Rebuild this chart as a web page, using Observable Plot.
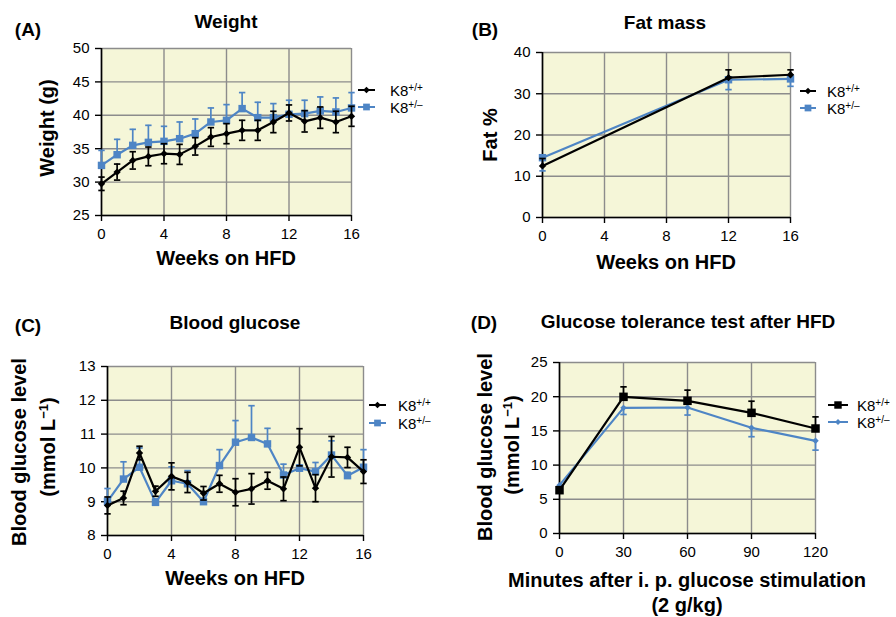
<!DOCTYPE html>
<html><head><meta charset="utf-8">
<script src="https://cdn.jsdelivr.net/npm/d3@7"></script>
<script src="https://cdn.jsdelivr.net/npm/@observablehq/plot@0.6"></script>
<style>
body{margin:0;background:#fff;font-family:"Liberation Sans",Arial,sans-serif;}
#root{position:relative;width:896px;height:617px;overflow:hidden;background:#fff;}
.abs{position:absolute;white-space:nowrap;color:#000;line-height:1;}
.c{transform:translate(-50%,-50%);}
.r{transform:translate(-50%,-50%) rotate(-90deg);}
.ttl{font-size:19px;font-weight:bold;}
.lab{font-size:20px;font-weight:bold;}
.leg{font-size:15px;transform:translateY(-50%);line-height:15px;}
.leg sup{font-size:10px;vertical-align:5px;line-height:0;}
.lab sup{font-size:13px;vertical-align:7px;line-height:0;}
</style></head><body><div id="root"></div>
<script>
// ---------- data ----------
const weeksAll = [0,1,2,3,4,5,6,7,8,9,10,11,12,13,14,15,16];
const weightWT    = [29.75,31.5,33.25,33.85,34.25,34.15,35.35,36.75,37.25,37.75,37.75,39.0,40.35,39.1,39.65,39.0,39.85];
const weightWTErr = [1.0,1.2,1.3,1.4,1.5,1.5,1.3,1.4,1.5,1.5,1.5,1.6,1.2,1.6,1.6,1.6,1.5];
const weightHet    = [32.5,34.1,35.5,35.95,36.1,36.5,37.25,39.0,39.25,41.0,39.65,39.65,40.15,40.25,40.65,40.5,41.1];
const weightHetErr = [2.25,2.3,2.4,2.55,2.25,2.5,2.2,2.1,2.35,2.4,2.3,2.1,2.1,2.0,2.1,2.1,2.3];

const weeksFat = [0,12,16];
const fatWT    = [12.5,33.9,34.6];
const fatWTErr = [1.8,1.9,1.2];
const fatHet    = [14.5,33.4,33.6];
const fatHetErr = [3.2,2.4,1.8];

const glucWT    = [8.89,9.11,10.44,9.31,9.75,9.57,9.25,9.53,9.28,9.38,9.62,9.38,10.61,9.40,10.33,10.31,9.89];
const glucWTErr = [0.25,0.2,0.2,0.15,0.4,0.3,0.2,0.25,0.4,0.45,0.25,0.35,0.55,0.4,0.6,0.3,0.35];
const glucHet    = [9.01,9.67,10.02,8.98,9.62,9.53,9.0,10.07,10.76,10.90,10.71,9.79,9.99,9.89,10.38,9.77,10.02];
const glucHetErr = [0.38,0.51,0.57,0.1,0.41,0.39,0.1,0.47,0.64,0.94,0.46,0.32,0.1,0.27,0.42,0.1,0.52];

const minutes = [0,30,60,90,120];
const gttWT    = [6.33,19.98,19.40,17.64,15.35];
const gttWTErr = [0.5,1.46,1.56,1.7,1.7];
const gttHet    = [7.07,18.37,18.42,15.45,13.55];
const gttHetErr = [0.3,0.97,1.1,1.3,1.36];

const ticksWeeks = [0,4,8,12,16];
const ticksWeight = [25,30,35,40,45,50];
const ticksFat = [0,10,20,30,40];
const ticksGluc = [8,9,10,11,12,13];
const ticksMin = [0,30,60,90,120];
const ticksGtt = [0,5,10,15,20,25];

// ---------- style ----------
const BLACK = "#000", BLUE = "#4e85c5", BG = "#f5f6d8", GRID = "#8c8c8c";
const cap = {draw(ctx, size){ const r = Math.sqrt(size/Math.PI); ctx.moveTo(-r,0); ctx.lineTo(r,0); }};

function rowsOf(xs, ys, es, dir){ // dir: "both" | "up" | "down"
  return xs.map((x,i)=>({x, y: ys[i],
    lo: dir==="up" ? ys[i] : ys[i]-es[i],
    hi: dir==="down" ? ys[i] : ys[i]+es[i], dir}));
}

function seriesMarks(rows, color, symbol, r){
  const capsHi = rows.filter(d=>d.dir!=="down");
  const capsLo = rows.filter(d=>d.dir!=="up");
  return [
    Plot.ruleX(rows, {x:"x", y1:"lo", y2:"hi", stroke: color, strokeWidth: 1.7}),
    Plot.dot(capsHi, {x:"x", y:"hi", symbol: cap, r: 3.2, stroke: color, strokeWidth: 1.7}),
    Plot.dot(capsLo, {x:"x", y:"lo", symbol: cap, r: 3.2, stroke: color, strokeWidth: 1.7}),
    Plot.line(rows, {x:"x", y:"y", stroke: color, strokeWidth: 2.2}),
    Plot.dot(rows, {x:"x", y:"y", symbol, r, fill: color, stroke: null})
  ];
}

function panel(o){
  const chart = Plot.plot({
    width: o.w, height: o.h,
    marginLeft: o.ml, marginRight: o.mr, marginTop: o.mt, marginBottom: o.mb,
    x: {domain: o.xDomain, label: null},
    y: {domain: o.yDomain, label: null},
    style: {background: "transparent", fontFamily: "'Liberation Sans', Arial, sans-serif", fontSize: "15px", color: "#000", overflow: "visible"},
    marks: [
      Plot.frame({fill: BG, stroke: null}),
      Plot.gridX(o.xTicks, {stroke: GRID, strokeOpacity: 1, strokeWidth: 1.4}),
      Plot.gridY(o.yTicks, {stroke: GRID, strokeOpacity: 1, strokeWidth: 1.4}),
      Plot.axisX(o.xTicks, {tickSize: 6, tickPadding: 7, label: null, stroke: BLACK, strokeWidth: 1.4, fontSize: 15}),
      Plot.axisY(o.yTicks, {tickSize: 6, tickPadding: 6, label: null, stroke: BLACK, strokeWidth: 1.4, fontSize: 15}),
      Plot.ruleX([o.xDomain[0]], {stroke: BLACK, strokeWidth: 1.6}),
      Plot.ruleY([o.yDomain[0]], {stroke: BLACK, strokeWidth: 1.6}),
      ...o.series.flatMap(s => seriesMarks(s.rows, s.color, s.symbol, s.r))
    ]
  });
  chart.style.position = "absolute";
  chart.style.left = o.left + "px";
  chart.style.top = o.top + "px";
  root.appendChild(chart);
}

const root = document.getElementById("root");

panel({left:0, top:0, w:448, h:300, ml:101, mr:97, mt:48, mb:85,
  xDomain:[0,16], yDomain:[25,50], xTicks:ticksWeeks, yTicks:ticksWeight,
  series:[
    {rows: rowsOf(weeksAll, weightHet, weightHetErr, "up"), color: BLUE, symbol: "square", r: 4.2},
    {rows: rowsOf(weeksAll, weightWT, weightWTErr, "both"), color: BLACK, symbol: "diamond2", r: 3.3}
  ]});

panel({left:448, top:0, w:448, h:300, ml:94, mr:106, mt:52, mb:83,
  xDomain:[0,16], yDomain:[0,40], xTicks:ticksWeeks, yTicks:ticksFat,
  series:[
    {rows: rowsOf(weeksFat, fatHet, fatHetErr, "down"), color: BLUE, symbol: "square", r: 4.2},
    {rows: rowsOf(weeksFat, fatWT, fatWTErr, "up"), color: BLACK, symbol: "diamond2", r: 3.3}
  ]});

panel({left:0, top:300, w:448, h:317, ml:107, mr:85, mt:66, mb:82,
  xDomain:[0,16], yDomain:[8,13], xTicks:ticksWeeks, yTicks:ticksGluc,
  series:[
    {rows: rowsOf(weeksAll, glucHet, glucHetErr, "up"), color: BLUE, symbol: "square", r: 4.2},
    {rows: rowsOf(weeksAll, glucWT, glucWTErr, "both"), color: BLACK, symbol: "diamond2", r: 3.3}
  ]});

panel({left:448, top:300, w:448, h:317, ml:111, mr:81, mt:62, mb:84,
  xDomain:[0,120], yDomain:[0,25], xTicks:ticksMin, yTicks:ticksGtt,
  series:[
    {rows: rowsOf(minutes, gttHet, gttHetErr, "down"), color: BLUE, symbol: "diamond2", r: 2.9},
    {rows: rowsOf(minutes, gttWT, gttWTErr, "up"), color: BLACK, symbol: "square", r: 4.8}
  ]});

// ---------- text ----------
function txt(html, cls, x, y){
  const d = document.createElement("div");
  d.className = "abs " + cls;
  d.style.left = x + "px"; d.style.top = y + "px";
  d.innerHTML = html;
  root.appendChild(d);
}
txt("(A)", "ttl c", 28, 29);
txt("Weight", "ttl c", 226, 21);
txt("Weight (g)", "lab r", 47, 128);
txt("Weeks on HFD", "lab c", 226, 258);

txt("(B)", "ttl c", 485, 29);
txt("Fat mass", "ttl c", 665, 22);
txt("Fat %", "lab r", 490, 135);
txt("Weeks on HFD", "lab c", 666, 262);

txt("(C)", "ttl c", 28, 325);
txt("Blood glucose", "ttl c", 235, 322);
txt("Blood glucose level", "lab r", 19, 452);
txt("(mmol L<sup>&minus;1</sup>)", "lab r", 48, 447);
txt("Weeks on HFD", "lab c", 235, 578);

txt("(D)", "ttl c", 484, 322);
txt("Glucose tolerance test after HFD", "ttl c", 688, 321);
txt("Blood glucose level", "lab r", 485, 447);
txt("(mmol L<sup>&minus;1</sup>)", "lab r", 512, 445);
txt("Minutes after i. p. glucose stimulation", "lab c", 687, 580);
txt("(2 g/kg)", "lab c", 687, 605);

// ---------- legends ----------
function legendItem(x1, x2, tx, y, color, symbol, r, label){
  const svg = d3.create("svg").attr("width", x2 - x1 + 12).attr("height", 16)
    .style("position","absolute").style("left",(x1-6)+"px").style("top",(y-8)+"px");
  svg.append("line").attr("x1",6).attr("x2",x2-x1+6).attr("y1",8).attr("y2",8)
    .attr("stroke",color).attr("stroke-width",2);
  const sym = symbol === "square" ? d3.symbolSquare : d3.symbolDiamond2;
  svg.append("path").attr("d", d3.symbol(sym, Math.PI*r*r)()).attr("transform",`translate(${(x2-x1)/2+6},8)`).attr("fill",color);
  root.appendChild(svg.node());
  txt(label, "leg", tx, y);
}
const L1 = "K8<sup>+/+</sup>", L2 = "K8<sup>+/&ndash;</sup>";
legendItem(358, 375, 390, 90, BLACK, "diamond2", 3.0, L1);
legendItem(358, 375, 390, 107, BLUE, "square", 3.8, L2);
legendItem(800, 816, 827, 91, BLACK, "diamond2", 3.0, L1);
legendItem(800, 816, 827, 108, BLUE, "square", 3.8, L2);
legendItem(369, 386, 398, 405, BLACK, "diamond2", 3.0, L1);
legendItem(369, 386, 398, 423, BLUE, "square", 3.8, L2);
legendItem(828, 848, 857, 405, BLACK, "square", 4.2, L1);
legendItem(828, 848, 857, 422, BLUE, "diamond2", 2.7, L2);
</script></body></html>
